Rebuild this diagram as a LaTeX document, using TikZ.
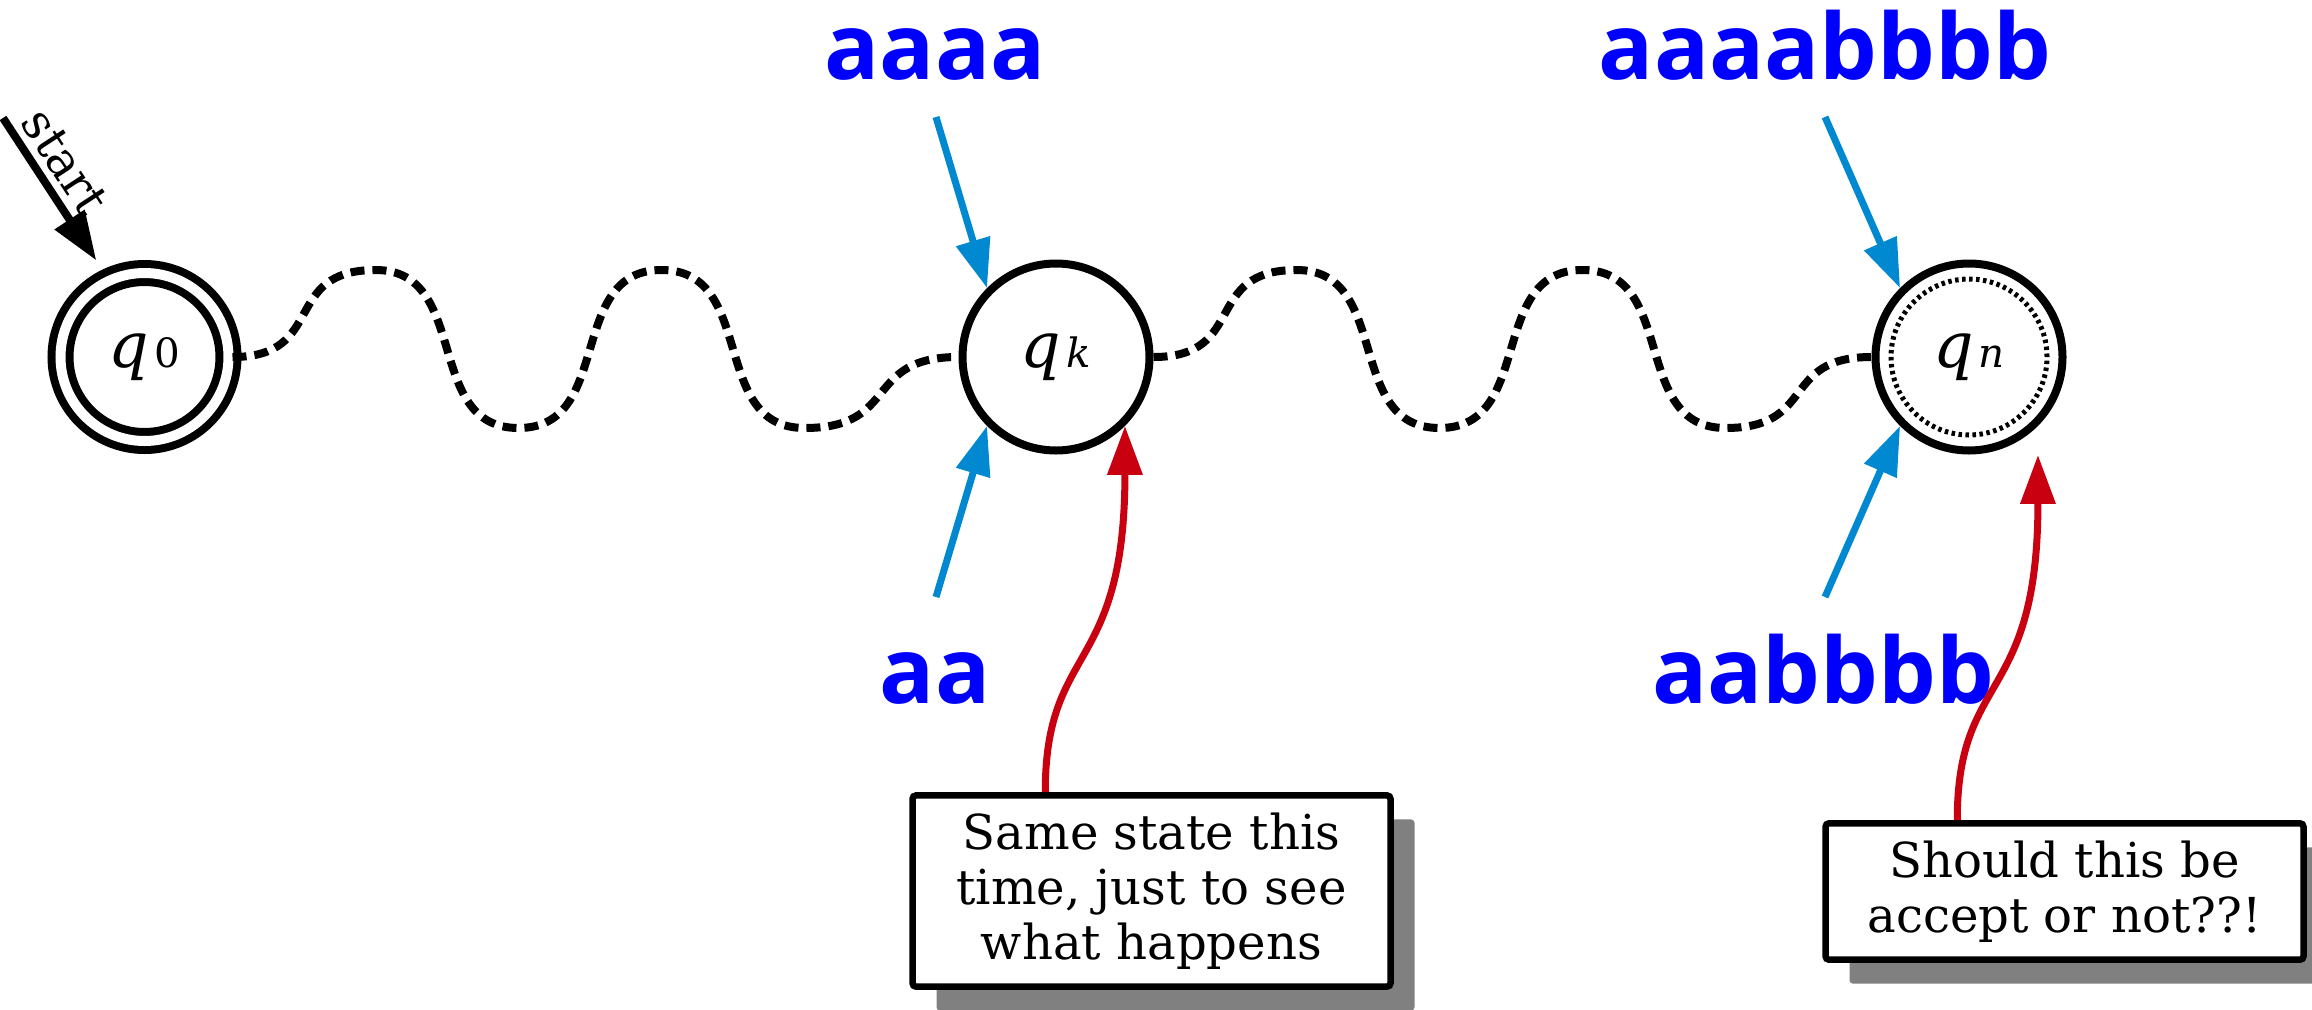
\documentclass[tikz,border=0pt]{standalone}
\usepackage{fontspec}
\setmainfont{DejaVu Serif}
\newfontfamily\wordfont{Open Sans}
\usetikzlibrary{arrows.meta, calc, shadows}
\definecolor{feedblue}{RGB}{0,136,209}
\definecolor{notered}{RGB}{200,0,16}
\newcommand{\qstate}[1]{{\itshape q}\kern1.5pt{\fontsize{11.5}{12}\selectfont #1}}

\begin{document}
\begin{tikzpicture}[
  font=\fontsize{13.7}{15.6}\selectfont,
  >={Triangle[length=0.49cm, width=0.34cm]},
  state/.style={
    circle, draw=black, line width=0.08cm,
    minimum size=1.87cm, inner sep=0pt,
    font=\fontsize{18}{20}\selectfont
  },
  startstate/.style={state, double, double distance=0.1cm, minimum size=1.68cm},
  finalstate/.style={state,
    path picture={\draw[line width=0.05cm, dash pattern=on 0.035cm off 0.035cm]
      (path picture bounding box.center) circle (0.78cm);}},
  wave/.style={line width=0.08cm, dash pattern=on 0.14cm off 0.08cm},
  word/.style={font=\wordfont\bfseries\fontsize{26}{30}\selectfont,
    text=blue, anchor=base, inner sep=0pt},
  feed/.style={->, draw=feedblue, line width=0.07cm},
  hint/.style={->, draw=notered, line width=0.07cm},
  note/.style={
    draw=black, line width=0.065cm, fill=white, align=center,
    minimum width=4.78cm, inner ysep=0.175cm, rounded corners=1pt,
    drop shadow={shadow xshift=0.24cm, shadow yshift=-0.24cm,
      fill=black!50, opacity=1}
  },
]

% ---- geometry ----
\def\ys{6.52}    % row of the states
\def\xa{9.35}    % words entering q_k
\def\xb{18.25}   % words entering q_n
\useasboundingbox (0,0) rectangle (23.12,10.09);

% =====================================================
% STATES
% =====================================================
\node[startstate] (q0) at (1.445,\ys) {\qstate{0}};
\node[state]      (qk) at (10.56,\ys) {\qstate{\itshape k}};
\node[finalstate] (qn) at (19.69,\ys) {\qstate{\itshape n}};

% start arrow
\coordinate (startpt) at (0.03,8.91);
\draw[->, line width=0.08cm, shorten >=0.2cm] (startpt) --
  node[sloped, above, pos=0.37, inner sep=2pt] {start} (q0.115);

% =====================================================
% WAVY RUNS BETWEEN STATES
% =====================================================
\foreach \from/\to in {q0/qk, qk/qn}
  \draw[wave] (\from.east)
    to[out=0, in=180, looseness=1.45] ++(1.43,0.87)
    to[out=0, in=180, looseness=1.15] ++(1.43,-1.58)
    to[out=0, in=180, looseness=1.15] ++(1.43,1.58)
    to[out=0, in=180, looseness=1.15] ++(1.43,-1.58)
    to[out=0, in=180, looseness=1.45] (\to.west);

% =====================================================
% INPUT WORDS
% =====================================================
\node[word] (wtopk) at (\xa,9.30) {aaaa};
\node[word] (wbotk) at (\xa,3.06) {aa};
\node[word] (wtopn) at (\xb,9.30) {aaaabbbb};
\node[word] (wbotn) at (\xb-0.02,3.06) {aabbbb};

\coordinate (ftopk) at (\xa+0.01,8.92);
\coordinate (fbotk) at (\xa+0.01,4.12);
\coordinate (ftopn) at (\xb,8.92);
\coordinate (fbotn) at (\xb,4.12);

\draw[feed] (ftopk) -- (qk.135);
\draw[feed] (fbotk) -- (qk.225);
\draw[feed] (ftopn) -- (qn.135);
\draw[feed] (fbotn) -- (qn.225);

% =====================================================
% NOTES
% =====================================================
\node[note] (samebox) at (11.515,1.18) {Same state this\\time, just to see\\what happens};
\node[note] (acceptbox) at (20.645,1.175) {Should this be\\accept or not??!};

\draw[hint] ($(samebox.north west)+(1.36,0)$)
  .. controls +(0,1.5) and +(0,-2.5) .. (qk.south east);
\draw[hint] ($(acceptbox.north west)+(1.35,0)$)
  .. controls +(0,1.5) and +(0,-2.5) .. ($(qn.south east)+(0,-0.29)$);

\end{tikzpicture}
\end{document}
